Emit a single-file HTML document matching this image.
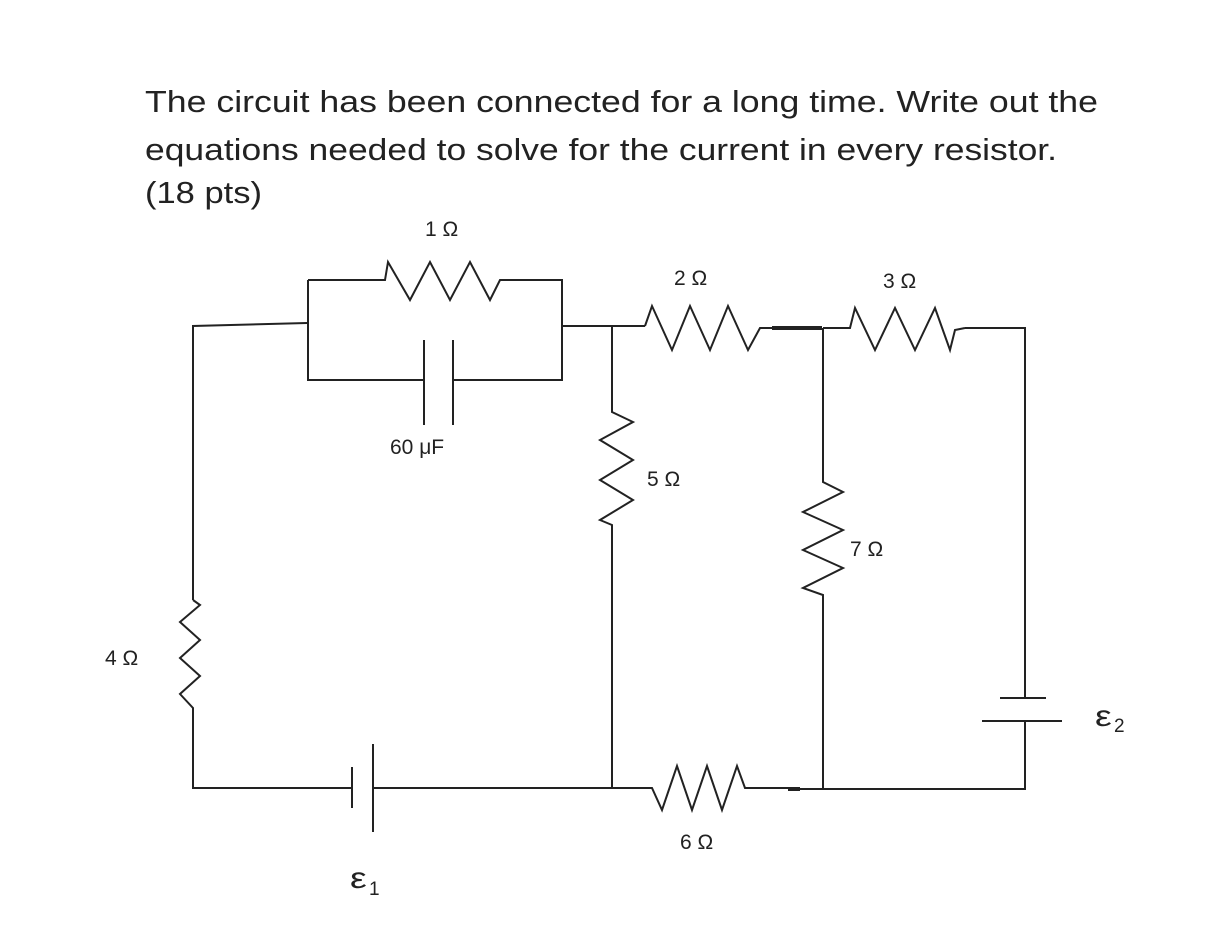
<!DOCTYPE html>
<html><head><meta charset="utf-8"><style>
html,body{margin:0;padding:0;background:#fff;}
svg{display:block;}
text{font-family:"Liberation Sans",sans-serif;fill:#222;}
</style></head><body>
<svg width="1206" height="930" viewBox="0 0 1206 930" xmlns="http://www.w3.org/2000/svg">
<g font-size="31">
<text x="145" y="112" textLength="953" lengthAdjust="spacingAndGlyphs">The circuit has been connected for a long time.  Write out the</text>
<text x="145" y="160" textLength="912" lengthAdjust="spacingAndGlyphs">equations needed to solve for the current in every resistor.</text>
<text x="145" y="203" textLength="117" lengthAdjust="spacingAndGlyphs">(18 pts)</text>
</g>
<g fill="none" stroke="#222" stroke-width="2">
<polyline points="307,323 193,326 193,600"/>
<polyline points="193,600 200,605 180,622 200,640 180,658 200,676 180,694 193,708 193,788 352,788"/>
<line x1="352" y1="767" x2="352" y2="808"/>
<line x1="373" y1="744" x2="373" y2="832"/>
<polyline points="373,788 612,788 645,788"/>
<polyline points="645,788 652,788 662,810 677,766 692,810 707,766 722,810 737,766 745,788 790,788"/>
<line x1="788" y1="789" x2="800" y2="789" stroke-width="4"/>
<polyline points="800,789 1025,789 1025,722"/>
<line x1="982" y1="721" x2="1062" y2="721"/>
<line x1="1000" y1="698" x2="1046" y2="698"/>
<polyline points="1025,698 1025,328 965,328"/>
<polyline points="965,328 955,330 950,350 935,308 915,350 895,308 875,350 855,308 850,328 823,328"/>
<polyline points="308,280 385,280 388,262 410,300 430,262 450,300 470,262 490,300 500,280 562,280 562,380 453,380"/>
<polyline points="308,280 308,380 424,380"/>
<line x1="424" y1="340" x2="424" y2="425"/>
<line x1="453" y1="340" x2="453" y2="425"/>
<polyline points="562,326 645,326"/>
<polyline points="645,326 652,306 672,350 690,306 710,350 728,306 748,350 760,328 772,328"/>
<line x1="772" y1="328" x2="822" y2="328" stroke-width="4"/>
<polyline points="612,326 612,412 633,422 600,440 633,460 600,480 633,500 600,520 612,525 612,788"/>
<polyline points="823,328 823,482 843,492 803,512 843,530 803,550 843,568 803,588 823,595 823,789"/>
</g>
<g font-size="21">
<text x="425" y="236">1 Ω</text>
<text x="674" y="285">2 Ω</text>
<text x="883" y="288">3 Ω</text>
<text x="390" y="454">60 μF</text>
<text x="647" y="486">5 Ω</text>
<text x="850" y="556">7 Ω</text>
<text x="105" y="665">4 Ω</text>
<text x="680" y="849">6 Ω</text>
<text x="280" y="888" font-size="30" transform="scale(1.25,1)">ε</text>
<text x="369" y="895" font-size="19">1</text>
<text x="876" y="726" font-size="30" transform="scale(1.25,1)">ε</text>
<text x="1114" y="732" font-size="19">2</text>
</g>
</svg>
</body></html>
